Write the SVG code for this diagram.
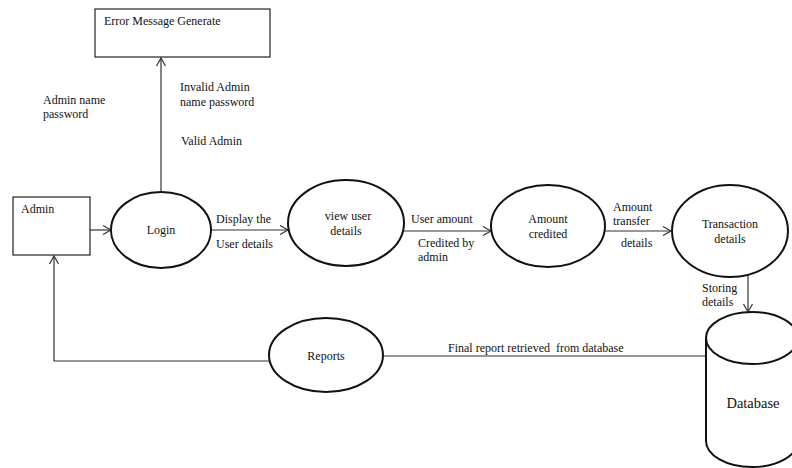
<svg xmlns="http://www.w3.org/2000/svg" width="792" height="468" viewBox="0 0 792 468">
<style>
text{font-family:"Liberation Serif","Times New Roman",serif;font-size:12px;fill:#111}
.box{fill:#fff;stroke:#222;stroke-width:1.2}
.proc{fill:#fff;stroke:#111;stroke-width:2}
.c{fill:none;stroke:#333;stroke-width:1.2}
.m{text-anchor:middle}
</style>
<defs>
<marker id="arr" markerWidth="12" markerHeight="12" refX="10" refY="6" orient="auto" markerUnits="userSpaceOnUse">
<path d="M2,1.5 L10,6 L2,10.5" fill="none" stroke="#333" stroke-width="1.2"/>
</marker>
</defs>
<rect width="792" height="468" fill="#fff"/>
<g id="connectors">
<line class="c" x1="161" y1="192" x2="161" y2="58" marker-end="url(#arr)"/>
<line class="c" x1="87" y1="230" x2="111" y2="230" marker-end="url(#arr)"/>
<line class="c" x1="211" y1="230" x2="288" y2="230" marker-end="url(#arr)"/>
<line class="c" x1="404" y1="231" x2="491" y2="231" marker-end="url(#arr)"/>
<line class="c" x1="605" y1="231" x2="671" y2="231" marker-end="url(#arr)"/>
<line class="c" x1="748" y1="276" x2="748" y2="312" marker-end="url(#arr)"/>
<line class="c" x1="384" y1="356" x2="706" y2="356"/>
<polyline class="c" points="270,361 54,361 54,256" marker-end="url(#arr)"/>
<text x="43" y="104">Admin name</text>
<text x="43" y="118">password</text>
<text x="180" y="91">Invalid Admin</text>
<text x="180" y="106">name password</text>
<text x="181" y="145">Valid Admin</text>
<text x="216" y="223">Display the</text>
<text x="216" y="248">User details</text>
<text x="411" y="223">User amount</text>
<text x="418" y="247">Credited by</text>
<text x="418" y="261">admin</text>
<text x="613" y="211">Amount</text>
<text x="613" y="225">transfer</text>
<text x="621" y="247">details</text>
<text x="702" y="292">Storing</text>
<text x="702" y="306">details</text>
<text x="448" y="352" xml:space="preserve">Final report retrieved  from database</text>
</g>
<g id="error">
<rect class="box" x="95" y="9" width="175" height="48"/>
<text x="104" y="25">Error Message Generate</text>
</g>
<g id="admin">
<rect class="box" x="13" y="197" width="77" height="58"/>
<text x="21" y="213">Admin</text>
</g>
<g id="login">
<ellipse class="proc" cx="161" cy="230" rx="50" ry="38"/>
<text class="m" x="161" y="234">Login</text>
</g>
<g id="view">
<ellipse class="proc" cx="346" cy="223" rx="58" ry="43"/>
<text class="m" x="348" y="220">view user</text>
<text class="m" x="346" y="235">details</text>
</g>
<g id="amount">
<ellipse class="proc" cx="548" cy="226" rx="57" ry="41"/>
<text class="m" x="548" y="223">Amount</text>
<text class="m" x="548" y="238">credited</text>
</g>
<g id="transaction">
<ellipse class="proc" cx="730" cy="231" rx="58" ry="46"/>
<text class="m" x="730" y="228">Transaction</text>
<text class="m" x="730" y="243">details</text>
</g>
<g id="reports">
<ellipse class="proc" cx="326" cy="355" rx="57" ry="37"/>
<text class="m" x="326" y="360">Reports</text>
</g>
<g id="database">
<path class="proc" d="M706,338 L706,441 A46,26 0 0 0 798,441 L798,338"/>
<ellipse class="proc" cx="752" cy="338" rx="46" ry="26"/>
<text class="m" x="753" y="408" style="font-size:14.5px">Database</text>
</g>
</svg>
